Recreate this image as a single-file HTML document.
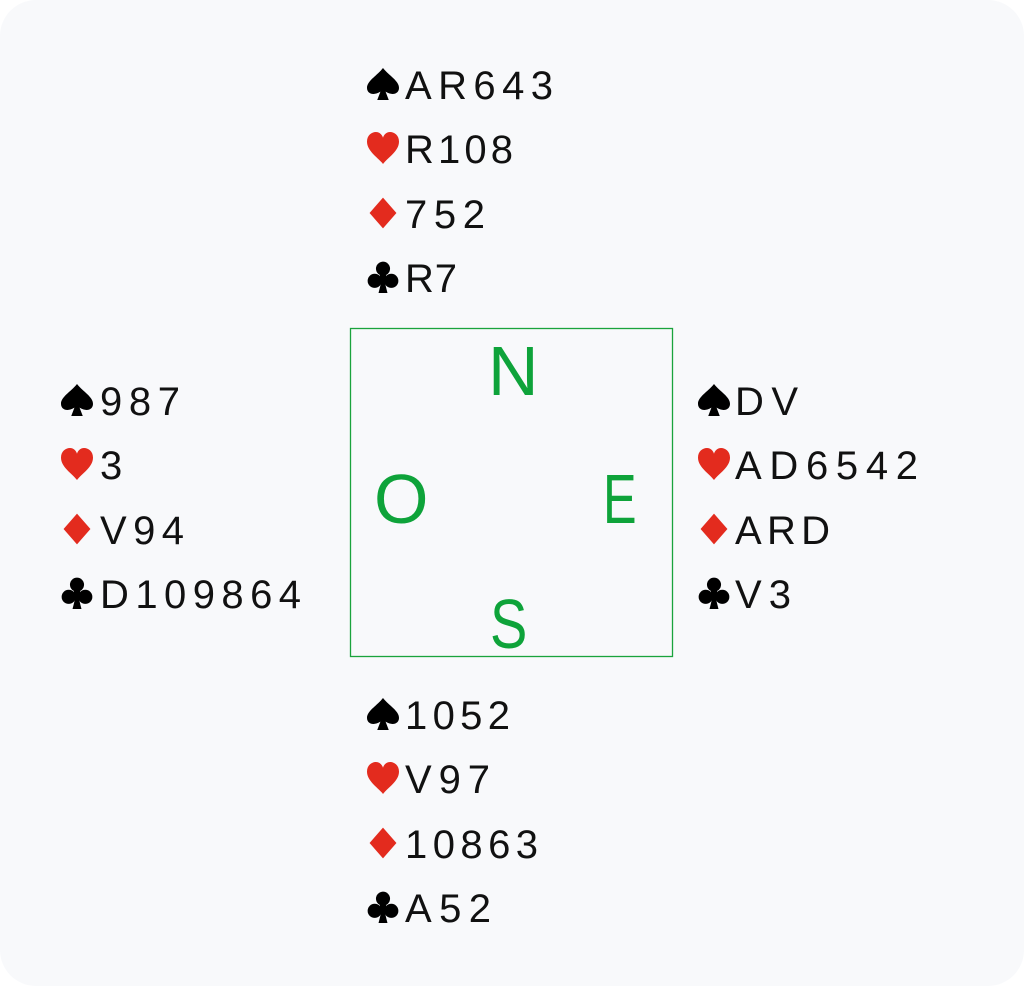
<!DOCTYPE html>
<html><head><style>
html,body{margin:0;padding:0;background:#fff;}
svg{display:block;}
text{font-family:"Liberation Sans","DejaVu Sans",sans-serif;}
.h{font-size:40px;fill:#111;}
.g{font-size:70px;fill:#0ea33a;}
</style></head><body>
<svg width="1024" height="986" viewBox="0 0 1024 986" xmlns="http://www.w3.org/2000/svg">
<defs>
<symbol id="sp" viewBox="0 0 100 100"><path fill="#000" d="M50 0 C30 25 0 40 0 62 C0 80 20 88 42 74 L32 100 L68 100 L58 74 C80 88 100 80 100 62 C100 40 70 25 50 0Z"/></symbol>
<symbol id="he" viewBox="0 0 100 100"><path fill="#e32b1e" d="M50 100 C35 80 0 60 0 30 C0 10 15 0 28 0 C40 0 48 10 50 18 C52 10 60 0 72 0 C85 0 100 10 100 30 C100 60 65 80 50 100Z"/></symbol>
<symbol id="di" viewBox="0 0 100 100"><path fill="#e32b1e" d="M50 2 L92 50 L50 98 L8 50Z"/></symbol>
<symbol id="cl" viewBox="0 0 100 100"><g fill="#000"><circle cx="50" cy="24" r="22"/><circle cx="24" cy="62" r="22"/><circle cx="76" cy="62" r="22"/><rect x="40" y="40" width="20" height="30"/><path d="M46 60 L36 100 L64 100 L54 60Z"/></g></symbol>
</defs>
<rect x="0" y="0" width="1024" height="986" rx="36" fill="#f8f9fb"/>
<rect x="350.5" y="328.5" width="322" height="328" fill="none" stroke="#1aa33c" stroke-width="1.3"/>
<text class="g" x="488" y="395">N</text>
<text class="g" x="374" y="523">O</text>
<text class="g" transform="translate(603 523) scale(0.72 1)" x="0" y="0">E</text>
<text class="g" transform="translate(490 648) scale(0.8 1)" x="0" y="0">S</text>

<!-- North -->
<use href="#sp" x="366" y="68" width="34" height="32"/><text class="h" x="405" y="99" textLength="148" lengthAdjust="spacing">AR643</text>
<use href="#he" x="366" y="132" width="34" height="32"/><text class="h" x="405" y="163" textLength="108" lengthAdjust="spacing">R108</text>
<use href="#di" x="366" y="197" width="34" height="32"/><text class="h" x="405" y="228" textLength="80" lengthAdjust="spacing">752</text>
<use href="#cl" x="366" y="261" width="34" height="32"/><text class="h" x="405" y="292" textLength="52" lengthAdjust="spacing">R7</text>

<!-- West -->
<use href="#sp" x="60" y="384" width="34" height="32"/><text class="h" x="100" y="415" textLength="80" lengthAdjust="spacing">987</text>
<use href="#he" x="60" y="448" width="34" height="32"/><text class="h" x="100" y="479" textLength="20" lengthAdjust="spacing">3</text>
<use href="#di" x="60" y="513" width="34" height="32"/><text class="h" x="100" y="544" textLength="84" lengthAdjust="spacing">V94</text>
<use href="#cl" x="60" y="577" width="34" height="32"/><text class="h" x="100" y="608" textLength="201" lengthAdjust="spacing">D109864</text>

<!-- East -->
<use href="#sp" x="697" y="384" width="34" height="32"/><text class="h" x="735" y="415" textLength="63" lengthAdjust="spacing">DV</text>
<use href="#he" x="697" y="448" width="34" height="32"/><text class="h" x="735" y="479" textLength="183" lengthAdjust="spacing">AD6542</text>
<use href="#di" x="697" y="513" width="34" height="32"/><text class="h" x="735" y="544" textLength="95" lengthAdjust="spacing">ARD</text>
<use href="#cl" x="697" y="577" width="34" height="32"/><text class="h" x="735" y="608" textLength="56" lengthAdjust="spacing">V3</text>

<!-- South -->
<use href="#sp" x="366" y="698" width="34" height="32"/><text class="h" x="405" y="729" textLength="105" lengthAdjust="spacing">1052</text>
<use href="#he" x="366" y="762" width="34" height="32"/><text class="h" x="405" y="793" textLength="85" lengthAdjust="spacing">V97</text>
<use href="#di" x="366" y="827" width="34" height="32"/><text class="h" x="405" y="858" textLength="133" lengthAdjust="spacing">10863</text>
<use href="#cl" x="366" y="891" width="34" height="32"/><text class="h" x="405" y="922" textLength="86" lengthAdjust="spacing">A52</text>
</svg>
</body></html>
